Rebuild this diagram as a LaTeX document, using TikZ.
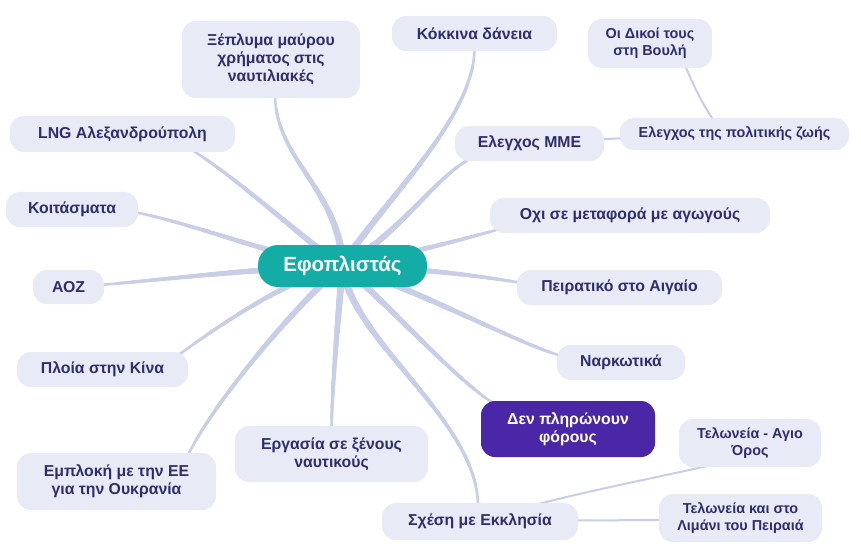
\documentclass[tikz,border=0pt]{standalone}
\usepackage{fontspec}
\setmainfont{Liberation Sans}
\usetikzlibrary{calc,backgrounds}
\definecolor{nodefill}{HTML}{E8EAF6}
\definecolor{txtcol}{HTML}{2D2E6B}
\definecolor{rootteal}{HTML}{13ADA6}
\definecolor{purp}{HTML}{4A27A6}
\definecolor{brcol}{HTML}{C8CEE8}
\tikzset{
 leaf/.style={draw=none, fill=nodefill, rounded corners=14pt, text=txtcol,
   font=\bfseries\fontsize{15.8}{18}\selectfont, align=center, inner sep=0pt},
 smallleaf/.style={leaf, font=\bfseries\fontsize{14.4}{16.8}\selectfont},
 rootnode/.style={leaf, fill=rootteal, text=white, rounded corners=20pt,
   font=\bfseries\fontsize{20.5}{23}\selectfont},
 taxnode/.style={leaf, fill=purp, text=white},
 branchline/.style={draw=brcol, line cap=round},
 branchpart/.style={draw=brcol, line cap=butt},
 subline/.style={draw=brcol, line width=2pt, line cap=round},
}
\newcommand\mmbranch[4]{%
 \draw[branchline, line width=2.6pt] (#1) .. controls (#2) and (#3) .. (#4);
 \foreach \s/\w in {0.92/2.9pt,0.84/3.2pt,0.76/3.5pt,0.68/3.9pt,0.60/4.3pt,0.52/4.7pt,
                    0.44/5.1pt,0.36/5.5pt,0.28/6pt,0.20/6.5pt,0.12/7pt,0.06/7.5pt}{
   \path ($(#1)!\s!(#2)$) coordinate (qa) ($(#2)!\s!(#3)$) coordinate (qb)
         ($(#3)!\s!(#4)$) coordinate (qc);
   \path ($(qa)!\s!(qb)$) coordinate (ra) ($(qb)!\s!(qc)$) coordinate (rb);
   \path ($(ra)!\s!(rb)$) coordinate (qe);
   \draw[branchpart, line width=\w] (#1) .. controls (qa) and (ra) .. (qe);
 }%
}
\begin{document}
\begin{tikzpicture}[x=1pt,y=-1pt]
\useasboundingbox (0,0) rectangle (861,553);
% nodes
\node[rootnode, minimum width=169pt, minimum height=42pt] (root) at (342.5,266) {Εφοπλιστάς};
\node[leaf, minimum width=178pt, minimum height=77pt] (xepl) at (271,59.5) {Ξέπλυμα μαύρου\\χρήματος στις\\ναυτιλιακές};
\node[leaf, minimum width=165pt, minimum height=35pt] (kokk) at (474.5,33.5) {Κόκκινα δάνεια};
\node[smallleaf, minimum width=124pt, minimum height=49pt] (dikoi) at (650,43.5) {Οι Δικοί τους\\στη Βουλή};
\node[smallleaf, minimum width=229pt, minimum height=32pt] (polit) at (734.5,134) {Ελεγχος της πολιτικής ζωής};
\node[leaf, minimum width=149pt, minimum height=35pt] (mme) at (529.5,143.5) {Ελεγχος ΜΜΕ};
\node[leaf, minimum width=280pt, minimum height=35pt] (oxi) at (630,215.5) {Οχι σε μεταφορά με αγωγούς};
\node[leaf, minimum width=205pt, minimum height=35pt] (peir) at (619.5,287.5) {Πειρατικό στο Αιγαίο};
\node[leaf, minimum width=128pt, minimum height=35pt] (nark) at (621,362.5) {Ναρκωτικά};
\node[taxnode, minimum width=174pt, minimum height=56pt] (foroi) at (568,429) {Δεν πληρώνουν\\φόρους};
\node[smallleaf, minimum width=142pt, minimum height=48pt] (agio) at (750,443) {Τελωνεία - Αγιο\\Όρος};
\node[smallleaf, minimum width=163pt, minimum height=48pt] (peiraia) at (740.5,518) {Τελωνεία και στο\\Λιμάνι του Πειραιά};
\node[leaf, minimum width=196pt, minimum height=37pt] (ekkl) at (480,521.5) {Σχέση με Εκκλησία};
\node[leaf, minimum width=193pt, minimum height=56pt] (ergas) at (331.5,454) {Εργασία σε ξένους\\ναυτικούς};
\node[leaf, minimum width=199pt, minimum height=57pt] (ouk) at (116.5,481.5) {Εμπλοκή με την ΕΕ\\για την Ουκρανία};
\node[leaf, minimum width=171pt, minimum height=35pt] (kina) at (102.5,369.5) {Πλοία στην Κίνα};
\node[leaf, minimum width=71pt, minimum height=34pt] (aoz) at (68.5,287) {ΑΟΖ};
\node[leaf, minimum width=132pt, minimum height=35pt] (koit) at (72,209.5) {Κοιτάσματα};
\node[leaf, minimum width=225pt, minimum height=36pt] (lng) at (122.5,134) {LNG Αλεξανδρούπολη};
% branch end points on the nodes
\coordinate (e-xepl) at ($(xepl)+(4,34.5)$);
\coordinate (e-kokk) at ($(kokk)+(0,14)$);
\coordinate (e-mme) at ($(mme)+(-55,13.5)$);
\coordinate (e-oxi) at ($(oxi)+(-130,13.5)$);
\coordinate (e-peir) at ($(peir)+(-97.5,-4.5)$);
\coordinate (e-nark) at ($(nark)+(-59,-6.5)$);
\coordinate (e-foroi) at ($(foroi)+(-72,-24)$);
\coordinate (e-ekkl) at ($(ekkl)+(-2,-15.5)$);
\coordinate (e-ergas) at ($(ergas)+(0,-26)$);
\coordinate (e-ouk) at ($(ouk)+(71.5,-26.5)$);
\coordinate (e-kina) at ($(kina)+(77.5,-15.5)$);
\coordinate (e-aoz) at ($(aoz)+(31.5,-2)$);
\coordinate (e-koit) at ($(koit)+(62,2.5)$);
\coordinate (e-lng) at ($(lng)+(69.5,16)$);
\begin{pgfonlayer}{background}
\fill[white] (0,0) rectangle (861,553);
\mmbranch{root.center}{340,190}{275,160}{e-xepl}
\mmbranch{root.center}{378,205}{475,120}{e-kokk}
\mmbranch{root.center}{400,235}{440,170}{e-mme}
\mmbranch{root.center}{400,256}{460,240}{e-oxi}
\mmbranch{root.center}{420,268}{480,276}{e-peir}
\mmbranch{root.center}{420,290}{520,345}{e-nark}
\mmbranch{root.center}{385,300}{455,380}{e-foroi}
\mmbranch{root.center}{350,340}{478,420}{e-ekkl}
\mmbranch{root.center}{337,330}{332,390}{e-ergas}
\mmbranch{root.center}{300,300}{215,400}{e-ouk}
\mmbranch{root.center}{300,275}{240,310}{e-kina}
\mmbranch{root.center}{260,268}{160,280}{e-aoz}
\mmbranch{root.center}{290,262}{200,225}{e-koit}
\mmbranch{root.center}{310,245}{240,180}{e-lng}
\draw[subline] ($(mme.east)+(-5,-4)$) -- ($(polit.west)+(5,4)$);
\draw[subline] ($(dikoi.south)+(35,-3)$) .. controls (693,85) and (703,105) .. ($(polit.north)+(-20,4)$);
\draw[subline] ($(ekkl.north)+(48,4)$) .. controls (590,490) and (660,477) .. ($(agio.south)+(-35,-3)$);
\draw[subline] ($(ekkl.east)+(-5,-1)$) -- ($(peiraia.west)+(5,2)$);
\end{pgfonlayer}
\end{tikzpicture}
\end{document}
